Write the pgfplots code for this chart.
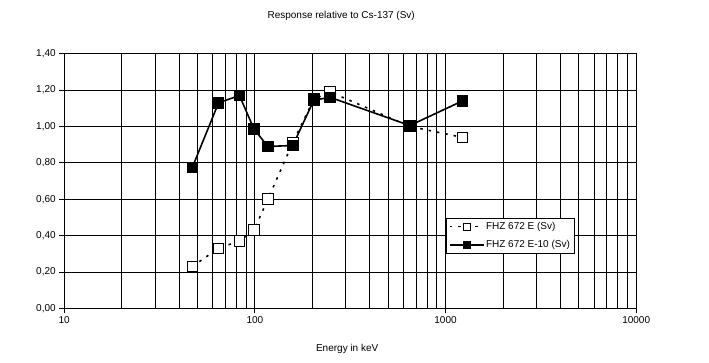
\documentclass[border=0pt]{standalone}
\usepackage{pgfplots}
\pgfplotsset{compat=1.18}
\usepackage{fontspec}
\setmainfont{Liberation Sans}
\newcommand{\cf}{\fontsize{10}{12}\selectfont}
\begin{document}
\begin{tikzpicture}[x=1pt,y=1pt]
\path[use as bounding box] (0,0) rectangle (709,363);
\begin{axis}[
  at={(64.2pt,54.7pt)}, anchor=south west,
  scale only axis, width=572pt, height=254.6pt,
  xmode=log, xmin=10, xmax=10000, ymin=0, ymax=1.4,
  axis line style={black, line width=0.8pt},
  xtick={10,100,1000,10000},
  xticklabels={10,100,1000,10000},
  minor xtick={20,30,40,50,60,70,80,90,200,300,400,500,600,700,800,900,2000,3000,4000,5000,6000,7000,8000,9000},
  ytick={0,0.2,0.4,0.6,0.8,1.0,1.2,1.4},
  xtick pos=bottom, ytick pos=left,
  tick align=outside, major tick length=5pt, minor tick length=0pt,
  tick style={black, line width=0.8pt},
  grid=both,
  major grid style={black, line width=0.8pt},
  minor grid style={black, line width=0.8pt},
  yticklabel style={font=\cf, /pgf/number format/.cd, fixed, fixed zerofill, precision=2, use comma, assume math mode=true},
  xticklabel style={font=\cf},
  title={Response relative to Cs-137 (Sv)},
  title style={font=\cf, at={(0.5,1)}, anchor=center, yshift=32pt, xshift=-9pt},
  xlabel={Energy in keV},
  xlabel style={font=\cf, at={(0.5,0)}, anchor=center, yshift=-41pt, xshift=-3pt},
  legend style={at={(0.6675,0.355)}, anchor=north west, draw=black, line width=0.8pt, fill=white, font=\cf, inner sep=2.5pt, row sep=6.5pt, nodes={inner sep=1.5pt}},
  legend cell align=left,
  legend image code/.code={\draw[mark repeat=2,mark phase=2,mark size=3.5pt] plot coordinates {(0pt,0pt) (17pt,0pt) (34pt,0pt)};},
]
\addplot[black, line width=1.6pt, dash pattern=on 2.5pt off 6pt, mark=square*, mark size=5.3pt, mark options={solid, fill=white, draw=black, line width=0.8pt}]
coordinates {(47,0.23)(64.5,0.33)(83,0.37)(99,0.43)(117,0.60)(158,0.91)(204,1.15)(248,1.19)(650,1.00)(1225,0.94)};
\addlegendentry{FHZ 672 E (Sv)}
\addplot[black, line width=1.6pt, mark=square*, mark size=5.3pt, mark options={solid, fill=black, draw=black, line width=0.8pt}]
coordinates {(47,0.775)(64.5,1.13)(83,1.17)(99,0.985)(117,0.89)(158,0.895)(204,1.145)(248,1.16)(650,1.005)(1225,1.14)};
\addlegendentry{FHZ 672 E-10 (Sv)}
\end{axis}
\end{tikzpicture}
\end{document}
